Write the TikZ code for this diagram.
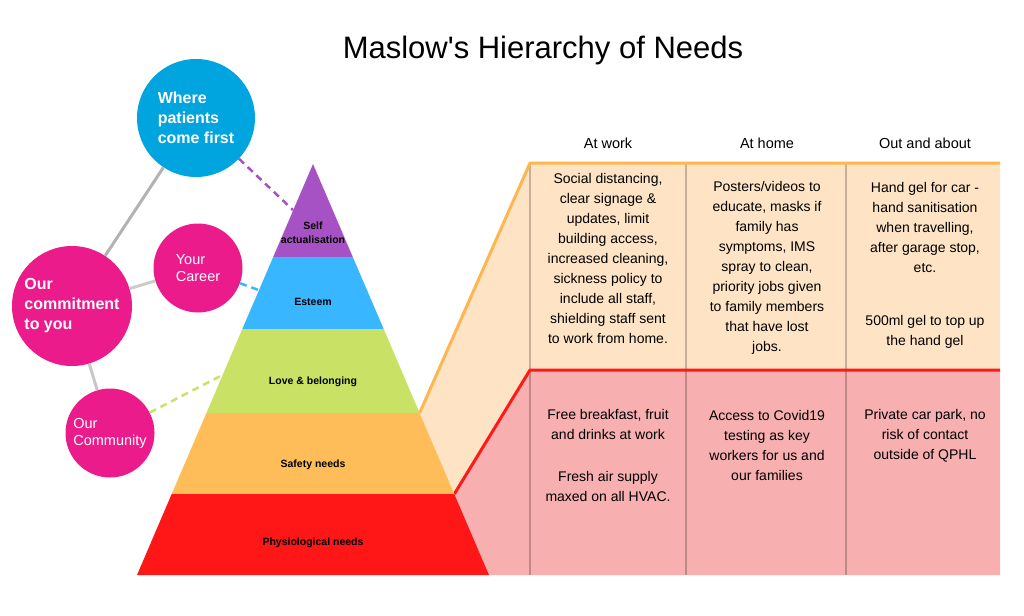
\documentclass[tikz,border=0pt]{standalone}
\usepackage{fontspec}
\setmainfont{Liberation Sans}
\definecolor{selfc}{HTML}{A752C4}
\definecolor{esteemc}{HTML}{38B6FF}
\definecolor{lovec}{HTML}{C9E265}
\definecolor{safetyc}{HTML}{FFBD59}
\definecolor{physc}{HTML}{FF1616}
\definecolor{patientc}{HTML}{00A5DF}
\definecolor{pinkc}{HTML}{EC1B8C}
\definecolor{rowA}{HTML}{FEE4C4}
\definecolor{rowAline}{HTML}{FDB650}
\definecolor{rowB}{HTML}{F8AFAF}
\definecolor{rowBline}{HTML}{FF1A1A}
\begin{document}
\begin{tikzpicture}[x=1pt,y=-1pt,
  bigcircle/.style={circle,inner sep=0pt,text=white,align=left,
    font=\fontsize{16}{20}\selectfont\bfseries},
  smallcircle/.style={circle,inner sep=0pt,text=white,align=left,
    fill=pinkc,minimum size=89pt,font=\fontsize{14.5}{17}\selectfont},
  link/.style={draw=black!30,line width=3pt},
  levellabel/.style={inner sep=0pt,align=center,
    font=\fontsize{10.5}{14}\selectfont\bfseries},
  cell/.style={inner sep=0pt,align=center,font=\fontsize{14}{20}\selectfont},
  colhead/.style={inner sep=0pt,font=\fontsize{14.5}{18}\selectfont},
  divider/.style={draw=black,opacity=0.22,line width=1.5pt},
  tie/.style={dashed,line width=2.5pt,dash pattern=on 7pt off 5pt}]
\useasboundingbox (0,0) rectangle (1024,615);

% title
\node[inner sep=0pt,font=\fontsize{31}{35}\selectfont] (title) at (543,50) {Maslow\textquotesingle s Hierarchy of Needs};

% table rows behind the pyramid
\fill[rowA] (419.6,413) -- (530,163) -- (1000,163) -- (1000,370) -- (530,370) -- (454.3,494) -- cycle;
\fill[rowB] (454.3,494) -- (530,370) -- (1000,370) -- (1000,575) -- (489,575) -- cycle;
\foreach \xx in {530,686,846} \draw[divider] (\xx,163) -- (\xx,575);
\draw[rowAline,line width=3pt,line join=round] (419.6,413) -- (530,163) -- (1000,163);
\draw[rowBline,line width=3pt,line join=round] (454.3,494) -- (530,370) -- (1000,370);

% pyramid levels
\fill[selfc]   (313,164) -- (352.8,257) -- (273.2,257) -- cycle;
\fill[esteemc] (273.2,257) -- (352.8,257) -- (383.7,329) -- (242.3,329) -- cycle;
\fill[lovec]   (242.3,329) -- (383.7,329) -- (419.6,413) -- (206.4,413) -- cycle;
\fill[safetyc] (206.4,413) -- (419.6,413) -- (454.3,494) -- (171.7,494) -- cycle;
\fill[physc]   (171.7,494) -- (454.3,494) -- (489,575) -- (137,575) -- cycle;

\node[levellabel] (lself) at (313,233) {Self\\actualisation};
\node[levellabel] (lesteem) at (313,302) {Esteem};
\node[levellabel] (llove) at (313,382) {Love \& belonging};
\node[levellabel] (lsafety) at (313,465) {Safety needs};
\node[levellabel] (lphys) at (313,543) {Physiological needs};

% points on the pyramid's left edge
\coordinate (eself) at (293,210);
\coordinate (eesteem) at (258.5,290);
\coordinate (elove) at (222.5,375);

% circles
\node[bigcircle,fill=patientc,minimum size=118pt] (patients) at (196,118) {Where\\patients\\come first};
\node[bigcircle,fill=pinkc,minimum size=120pt] (commit) at (72,306) {Our\\commitment\\to you};
\node[smallcircle] (career) at (198,268) {Your\\Career};
\node[smallcircle] (community) at (110,433) {Our\\Community};

\draw[link,draw=black!30] (patients) -- (commit);
\draw[link,draw=black!20] (commit) -- (career);
\draw[link,draw=black!22] (commit) -- (community);

\draw[tie,selfc] (patients) -- (eself);
\draw[tie,esteemc] (career) -- (eesteem);
\draw[tie,lovec] (community) -- (elove);

% column headings
\node[colhead] (hwork) at (608,143) {At work};
\node[colhead] (hhome) at (767,143) {At home};
\node[colhead] (hout) at (925,143) {Out and about};

% upper row
\node[cell] (a1) at (608,258) {Social distancing,\\clear signage \&\\updates, limit\\building access,\\increased cleaning,\\sickness policy to\\include all staff,\\shielding staff sent\\to work from home.};
\node[cell] (a2) at (767,267.5) {Posters/videos to\\educate, masks if\\family has\\symptoms, IMS\\spray to clean,\\priority jobs given\\to family members\\that have lost\\jobs.};
\node[cell] (a3) at (925,227.5) {Hand gel for car -\\hand sanitisation\\when travelling,\\after garage stop,\\etc.};
\node[cell] (a3b) at (925,332) {500ml gel to top up\\the hand gel};

% lower row
\node[cell] (b1) at (608,424.5) {Free breakfast, fruit\\and drinks at work};
\node[cell] (b1b) at (608,486) {Fresh air supply\\maxed on all HVAC.};
\node[cell] (b2) at (767,445) {Access to Covid19\\testing as key\\workers for us and\\our families};
\node[cell] (b3) at (925,435.5) {Private car park, no\\risk of contact\\outside of QPHL};
\end{tikzpicture}
\end{document}
